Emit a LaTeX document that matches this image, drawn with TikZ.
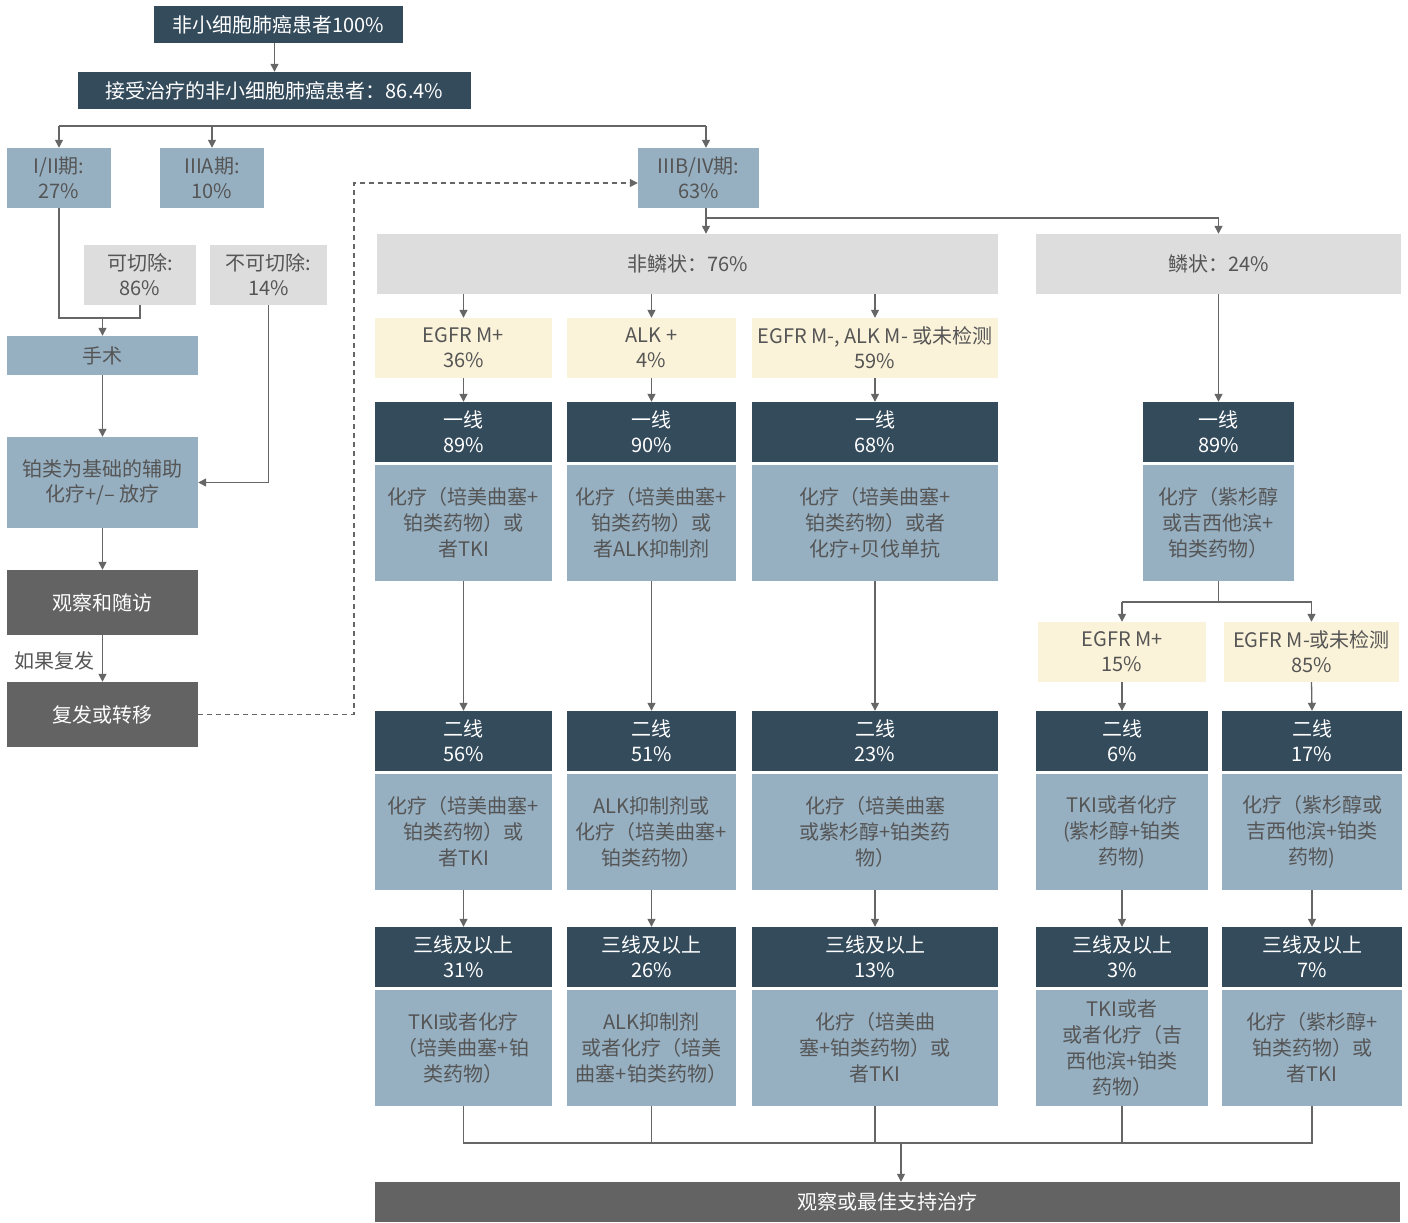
\documentclass[tikz,border=0pt]{standalone}
\usepackage{fontspec}
\setmainfont{Noto Sans CJK SC}
\usetikzlibrary{arrows.meta}
\definecolor{navy}{RGB}{52,75,92}
\definecolor{lblue}{RGB}{150,176,194}
\definecolor{lgray}{RGB}{221,221,221}
\definecolor{cream}{RGB}{251,243,217}
\definecolor{dgray}{RGB}{99,99,99}
\definecolor{txtgray}{RGB}{85,85,85}
\definecolor{linegray}{RGB}{102,102,102}
\newcommand\mybox[7]{\node[#6, minimum width={(#4-#2)*1pt}, minimum height={(#5-#3)*1pt}] (#1) at ({(#2+#4)/2},{(#3+#5)/2}) {#7};}
\begin{document}
\begin{tikzpicture}[x=1pt,y=-1pt,
  boxbase/.style={inner sep=0pt, align=center, font=\fontsize{20}{25}\selectfont},
  navybox/.style={boxbase, fill=navy, text=white},
  bluebox/.style={boxbase, fill=lblue, text=txtgray},
  bodybox/.style={boxbase, fill=lblue, text=txtgray, font=\fontsize{20}{26}\selectfont},
  graybox/.style={boxbase, fill=lgray, text=txtgray},
  creambox/.style={boxbase, fill=cream, text=txtgray},
  darkbox/.style={boxbase, fill=dgray, text=white},
  ln/.style={draw=linegray, line width=1.3pt},
  arr/.style={ln, -{Triangle[width=8pt,length=8pt]}},
]
\useasboundingbox (0,0) rectangle (1408,1223);
% top
\mybox{top}{154}{6}{403}{43}{navybox}{非小细胞肺癌患者100\%}
\mybox{treated}{78}{72}{471}{109}{navybox}{接受治疗的非小细胞肺癌患者：86.4\%}
% stages
\mybox{s1}{7}{148}{111}{208}{bluebox}{I/II期:\\27\%}
\mybox{s2}{160}{148}{264}{208}{bluebox}{IIIA期:\\10\%}
\mybox{s3}{638}{148}{759}{208}{bluebox}{IIIB/IV期:\\63\%}
% left branch
\mybox{res}{84}{245}{196}{305}{graybox}{可切除:\\86\%}
\mybox{unres}{210}{245}{327}{305}{graybox}{不可切除:\\14\%}
\mybox{surg}{7}{336}{198}{375}{bluebox}{手术}
\mybox{adj}{7}{437}{198}{528}{bluebox}{铂类为基础的辅助\\化疗+/– 放疗}
\mybox{obs}{7}{570}{198}{635}{darkbox}{观察和随访}
\mybox{rel}{7}{682}{198}{747}{darkbox}{复发或转移}
% histology
\mybox{nsq}{377}{234}{998}{294}{graybox}{非鳞状：76\%}
\mybox{sq}{1036}{234}{1401}{294}{graybox}{鳞状：24\%}
% markers
\mybox{m1}{375}{318}{552}{378}{creambox}{EGFR M+\\36\%}
\mybox{m2}{567}{318}{736}{378}{creambox}{ALK +\\4\%}
\mybox{m3}{752}{318}{998}{378}{creambox}{EGFR M-, ALK M- 或未检测\\59\%}
% first line
\mybox{a1h}{375}{402}{552}{462}{navybox}{一线\\89\%}
\mybox{a1b}{375}{465}{552}{581}{bodybox}{化疗（培美曲塞+\\铂类药物）或\\者TKI}
\mybox{a2h}{567}{402}{736}{462}{navybox}{一线\\90\%}
\mybox{a2b}{567}{465}{736}{581}{bodybox}{化疗（培美曲塞+\\铂类药物）或\\者ALK抑制剂}
\mybox{a3h}{752}{402}{998}{462}{navybox}{一线\\68\%}
\mybox{a3b}{752}{465}{998}{581}{bodybox}{化疗（培美曲塞+\\铂类药物）或者\\化疗+贝伐单抗}
\mybox{a4h}{1143}{402}{1294}{462}{navybox}{一线\\89\%}
\mybox{a4b}{1143}{465}{1294}{581}{bodybox}{化疗（紫杉醇\\或吉西他滨+\\铂类药物）}
% squamous markers
\mybox{m4}{1038}{622}{1206}{682}{creambox}{EGFR M+\\15\%}
\mybox{m5}{1224}{622}{1399}{682}{creambox}{EGFR M-或未检测\\85\%}
% second line
\mybox{b1h}{375}{711}{552}{771}{navybox}{二线\\56\%}
\mybox{b1b}{375}{774}{552}{890}{bodybox}{化疗（培美曲塞+\\铂类药物）或\\者TKI}
\mybox{b2h}{567}{711}{736}{771}{navybox}{二线\\51\%}
\mybox{b2b}{567}{774}{736}{890}{bodybox}{ALK抑制剂或\\化疗（培美曲塞+\\铂类药物）}
\mybox{b3h}{752}{711}{998}{771}{navybox}{二线\\23\%}
\mybox{b3b}{752}{774}{998}{890}{bodybox}{化疗（培美曲塞\\或紫杉醇+铂类药\\物）}
\mybox{b4h}{1036}{711}{1208}{771}{navybox}{二线\\6\%}
\mybox{b4b}{1036}{774}{1208}{890}{bodybox}{TKI或者化疗\\(紫杉醇+铂类\\药物)}
\mybox{b5h}{1222}{711}{1402}{771}{navybox}{二线\\17\%}
\mybox{b5b}{1222}{774}{1402}{890}{bodybox}{化疗（紫杉醇或\\吉西他滨+铂类\\药物)}
% third line
\mybox{c1h}{375}{927}{552}{987}{navybox}{三线及以上\\31\%}
\mybox{c1b}{375}{990}{552}{1106}{bodybox}{TKI或者化疗\\（培美曲塞+铂\\类药物）}
\mybox{c2h}{567}{927}{736}{987}{navybox}{三线及以上\\26\%}
\mybox{c2b}{567}{990}{736}{1106}{bodybox}{ALK抑制剂\\或者化疗（培美\\曲塞+铂类药物）}
\mybox{c3h}{752}{927}{998}{987}{navybox}{三线及以上\\13\%}
\mybox{c3b}{752}{990}{998}{1106}{bodybox}{化疗（培美曲\\塞+铂类药物）或\\者TKI}
\mybox{c4h}{1036}{927}{1208}{987}{navybox}{三线及以上\\3\%}
\mybox{c4b}{1036}{990}{1208}{1106}{bodybox}{TKI或者\\或者化疗（吉\\西他滨+铂类\\药物）}
\mybox{c5h}{1222}{927}{1402}{987}{navybox}{三线及以上\\7\%}
\mybox{c5b}{1222}{990}{1402}{1106}{bodybox}{化疗（紫杉醇+\\铂类药物）或\\者TKI}
% final
\mybox{final}{375}{1182}{1400}{1222}{darkbox}{观察或最佳支持治疗}

% ---- connectors ----
\draw[arr] (treated.north |- top.south) -- (treated.north);
\coordinate (h1) at (59,126);
\coordinate (h2) at (706,126);
\draw[ln] (h1) -- (h2);
\draw[arr] (h1) -- (h1 |- s1.north);
\draw[arr] (s2.north |- h1) -- (s2.north);
\draw[arr] (h2) -- (h2 |- s3.north);
% left branch
\coordinate (jr) at (102,318);
\draw[ln] (s1.south) -- (s1.south |- jr) -- (res.south |- jr) -- (res.south);
\draw[arr] (surg.north |- jr) -- (surg.north);
\draw[arr] (surg.south) -- (adj.north);
\draw[arr] (unres.south) -- (unres.south |- adj.east) -- (adj.east);
\draw[arr] (adj.south) -- (obs.north);
\draw[arr] (obs.south) -- (rel.north);
\node[font=\fontsize{20}{25}\selectfont, text=txtgray, anchor=east, inner sep=0pt] (iflbl) at (95,661) {如果复发};
\coordinate (d1) at (354,715);
\coordinate (d2) at (354,183);
\draw[ln, dash pattern=on 5pt off 4pt, -{Triangle[width=8pt,length=8pt]}] (rel.east) -- (d1 |- rel.east) -- (d2) -- (s3.west |- d2);
% IIIB/IV split
\coordinate (k) at (706,218);
\draw[ln] (s3.south -| k) -- (k) -- (sq.north |- k);
\draw[arr] (k) -- (k |- nsq.north);
\draw[arr] (sq.north |- k) -- (sq.north);
% non-squamous
\foreach \m in {m1,m2,m3} { \draw[arr] (\m.north |- nsq.south) -- (\m.north); }
\draw[arr] (m1.south) -- (a1h.north);
\draw[arr] (m2.south) -- (a2h.north);
\draw[arr] (m3.south) -- (a3h.north);
\draw[arr] (a1b.south) -- (b1h.north);
\draw[arr] (a2b.south) -- (b2h.north);
\draw[arr] (a3b.south) -- (b3h.north);
% squamous
\draw[arr] (sq.south) -- (a4h.north);
\coordinate (q) at (1218,602);
\draw[ln] (a4b.south) -- (a4b.south |- q);
\draw[ln] (m4.north |- q) -- (m5.north |- q);
\draw[arr] (m4.north |- q) -- (m4.north);
\draw[arr] (m5.north |- q) -- (m5.north);
\draw[arr] (m4.south) -- (b4h.north);
\draw[arr] (m5.south) -- (b5h.north);
% second to third
\foreach \i in {1,...,5} { \draw[arr] (b\i b.south) -- (c\i h.north); }
% bottom merge
\coordinate (bj) at (901,1143);
\draw[ln] (c1b.south) -- (c1b.south |- bj) -- (c5b.south |- bj) -- (c5b.south);
\draw[ln] (c2b.south) -- (c2b.south |- bj);
\draw[ln] (c3b.south) -- (c3b.south |- bj);
\draw[ln] (c4b.south) -- (c4b.south |- bj);
\draw[arr] (bj) -- (bj |- final.north);
\end{tikzpicture}
\end{document}
